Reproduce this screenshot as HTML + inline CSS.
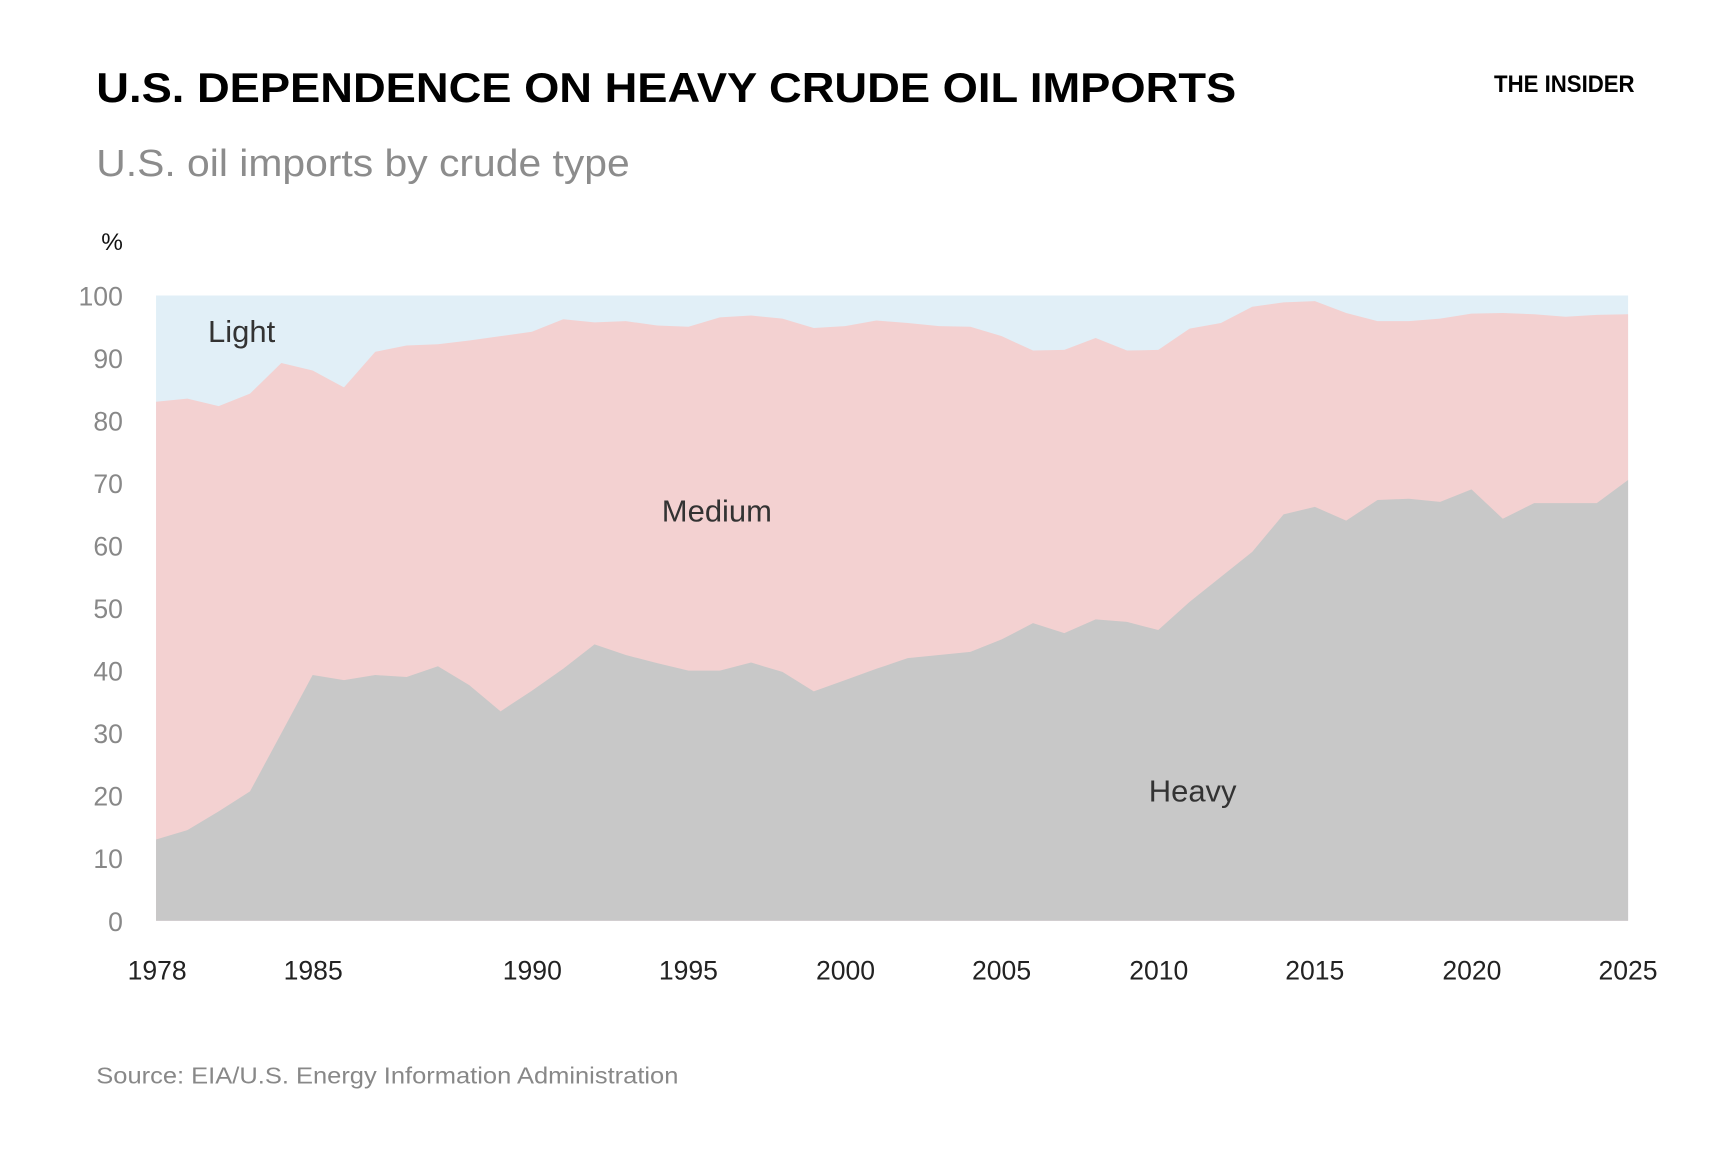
<!DOCTYPE html>
<html><head><meta charset="utf-8"><style>html,body{margin:0;padding:0;background:#fff}svg{display:block}</style></head>
<body>
<svg width="1732" height="1155" viewBox="0 0 1565 1043.6" xmlns="http://www.w3.org/2000/svg" font-family="Liberation Sans, Arial, sans-serif">
<rect width="1565" height="1043.6" fill="#fff"/>
<text x="87" y="92" font-size="38" font-weight="bold" fill="#000" textLength="1030" lengthAdjust="spacingAndGlyphs">U.S. DEPENDENCE ON HEAVY CRUDE OIL IMPORTS</text>
<text x="1350" y="83" font-size="22" font-weight="bold" fill="#000" textLength="127" lengthAdjust="spacingAndGlyphs">THE INSIDER</text>
<text x="87" y="159" font-size="34" fill="#8c8c8c" textLength="482" lengthAdjust="spacingAndGlyphs">U.S. oil imports by crude type</text>
<text x="111" y="226" font-size="22" fill="#111" text-anchor="end">%</text>
<g transform="translate(141,832) scale(28.3,-5.65)">
<rect x="0" y="0" width="47" height="100" fill="#e1eff7"/>
<polygon fill="#f3d1d1" points="0,0 0,83 1,83.5 2,82.3 3,84.3 4,89.2 5,88 6,85.3 7,91 8,92 9,92.2 10,92.8 11,93.5 12,94.2 13,96.2 14,95.7 15,95.9 16,95.2 17,95 18,96.5 19,96.8 20,96.3 21,94.8 22,95.1 23,96 24,95.6 25,95.1 26,95 27,93.5 28,91.2 29,91.3 30,93.2 31,91.2 32,91.3 33,94.7 34,95.6 35,98.2 36,98.9 37,99.1 38,97.2 39,95.9 40,95.9 41,96.3 42,97.1 43,97.2 44,97 45,96.6 46,96.9 47,97 47,0"/>
<polygon fill="#c8c8c8" points="0,0 0,13 1,14.5 2,17.5 3,20.7 4,30 5,39.3 6,38.5 7,39.3 8,39 9,40.7 10,37.7 11,33.5 12,36.8 13,40.3 14,44.2 15,42.5 16,41.2 17,40 18,40 19,41.3 20,39.8 21,36.7 22,38.5 23,40.3 24,42 25,42.5 26,43 27,45 28,47.6 29,46 30,48.2 31,47.8 32,46.5 33,51 34,55 35,59 36,65 37,66.2 38,64 39,67.3 40,67.5 41,67 42,69 43,64.3 44,66.8 45,66.8 46,66.8 47,70.5 47,0"/>
</g>
<g font-size="24" fill="#888" text-anchor="end">
<text x="111" y="841">0</text><text x="111" y="784.5">10</text><text x="111" y="728">20</text><text x="111" y="671.5">30</text><text x="111" y="615">40</text><text x="111" y="558.5">50</text><text x="111" y="502">60</text><text x="111" y="445.5">70</text><text x="111" y="389">80</text><text x="111" y="332.5">90</text><text x="111" y="276">100</text>
</g>
<g font-size="24" fill="#222" text-anchor="middle">
<text x="142" y="885">1978</text><text x="283" y="885">1985</text><text x="481" y="885">1990</text><text x="622" y="885">1995</text><text x="764" y="885">2000</text><text x="905" y="885">2005</text><text x="1047" y="885">2010</text><text x="1188" y="885">2015</text><text x="1330" y="885">2020</text><text x="1471" y="885">2025</text>
</g>
<g font-size="28" fill="#333">
<text x="188" y="309">Light</text><text x="598" y="471">Medium</text><text x="1038" y="724">Heavy</text>
</g>
<text x="87" y="979" font-size="21" fill="#888" textLength="526" lengthAdjust="spacingAndGlyphs">Source: EIA/U.S. Energy Information Administration</text>
</svg>
</body></html>
